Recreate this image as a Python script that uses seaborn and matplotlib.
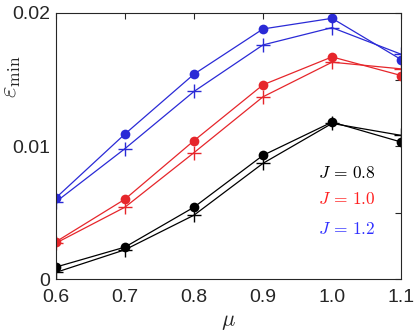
import numpy as np
import pandas as pd
import seaborn as sns
import matplotlib
matplotlib.use("Agg")
import matplotlib.pyplot as plt
from matplotlib.ticker import MultipleLocator

mu = [0.6, 0.7, 0.8, 0.9, 1.0, 1.1]

# filled dots / plus markers for each J
eps_dot_08 = [0.0009, 0.0024, 0.0054, 0.0093, 0.0118, 0.0103]
eps_plus_08 = [0.0005, 0.0022, 0.0048, 0.0087, 0.0117, 0.0108]
eps_dot_10 = [0.0028, 0.0060, 0.0104, 0.0146, 0.0167, 0.0153]
eps_plus_10 = [0.0027, 0.0054, 0.0095, 0.0137, 0.0163, 0.0158]
eps_dot_12 = [0.0061, 0.0109, 0.0154, 0.0188, 0.0196, 0.0165]
eps_plus_12 = [0.0058, 0.0098, 0.0141, 0.0176, 0.0189, 0.0169]

j_labels = ["$J\\,=\\,0.8$", "$J\\,=\\,1.0$", "$J\\,=\\,1.2$"]
colors = ["black", "#e6262b", "#2a2ad6"]
text_colors = ["black", "#ff2020", "#3030ff"]

series = [
    (eps_dot_08, eps_plus_08),
    (eps_dot_10, eps_plus_10),
    (eps_dot_12, eps_plus_12),
]

sns.set_theme(style="white")
plt.rcParams["font.family"] = ["Liberation Sans", "DejaVu Sans"]
plt.rcParams["mathtext.fontset"] = "cm"

fig = plt.figure(figsize=(4.2, 3.33), dpi=100)
ax = fig.add_axes([0.133, 0.162, 0.822, 0.799])

for (dots, plus), c in zip(series, colors):
    df_dot = pd.DataFrame({"mu": mu, "eps": dots})
    df_plus = pd.DataFrame({"mu": mu, "eps": plus})
    sns.lineplot(data=df_dot, x="mu", y="eps", ax=ax, color=c, lw=0.9,
                 marker="o", markersize=7, markeredgewidth=0, markerfacecolor=c)
    sns.lineplot(data=df_plus, x="mu", y="eps", ax=ax, color=c, lw=0.9,
                 marker="+", markersize=10, markeredgewidth=1.0, markeredgecolor=c)

for lab, tc, y in zip(j_labels, text_colors, [0.0080, 0.0060, 0.0038]):
    ax.text(0.98, y, lab, color=tc, fontsize=12.5, va="center", ha="left")

ax.set_xlim(0.6, 1.1)
ax.set_ylim(0, 0.02)
ax.set_xticks(mu)
ax.set_xticklabels(["0.6", "0.7", "0.8", "0.9", "1.0", "1.1"])
ax.set_yticks([0, 0.01, 0.02])
ax.set_yticklabels(["0", "0.01", "0.02"])
ax.yaxis.set_minor_locator(MultipleLocator(0.005))
ax.tick_params(which="both", direction="in", top=True, right=True,
               labelsize=14, length=4, width=0.8, color="#262626")
ax.tick_params(which="minor", length=4)
ax.tick_params(axis="x", pad=7)
ax.tick_params(axis="y", pad=4)
ax.set_xlabel(r"$\mu$", fontsize=16, labelpad=0)
ax.set_ylabel(r"$\varepsilon_{\min}$", fontsize=18)
ax.yaxis.set_label_coords(-0.095, 0.76)
ax.xaxis.set_label_coords(0.5, -0.12)
for sp in ax.spines.values():
    sp.set_color("#262626")
    sp.set_linewidth(0.8)

fig.savefig("out.png", dpi=100)
